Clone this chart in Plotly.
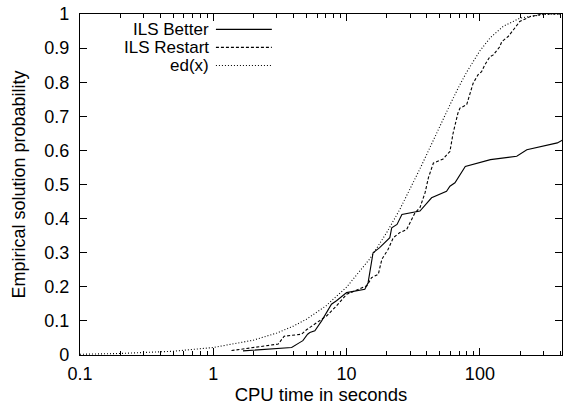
import plotly.graph_objects as go

# ILS Better (solid)
better_x = [1.67, 3.87, 4.47, 4.7, 5.1, 5.3, 5.78, 6.5, 7.7, 8.4, 10.0, 13.7, 14.5, 15.8, 17.7,
            21.1, 21.8, 23.9, 26.0, 35.5, 43.4, 56.2, 59.6, 65.0, 77.7, 120, 189, 225, 381, 423]
better_y = [0.012, 0.022, 0.037, 0.042, 0.061, 0.066, 0.071, 0.1, 0.149, 0.159, 0.183, 0.193, 0.212,
            0.30, 0.315, 0.344, 0.373, 0.383, 0.412, 0.422, 0.461, 0.48, 0.495, 0.505, 0.553, 0.573,
            0.583, 0.602, 0.622, 0.632]

# ILS Restart (dashed)
restart_x = [1.37, 3.07, 3.4, 4.6, 5.0, 5.3, 6.3, 7.1, 8.4, 10, 14.2, 15.4, 17.3, 18.4, 20.5, 22.4,
             25.1, 28.2, 32.6, 35.5, 38.8, 41.1, 44.8, 53, 59.6, 63, 68.5, 70.9, 79.6, 84.3, 89, 97,
             103, 109, 119, 126, 141, 146, 163, 178, 199, 237, 297, 420]
restart_y = [0.013, 0.032, 0.055, 0.061, 0.074, 0.081, 0.1, 0.115, 0.144, 0.178, 0.203, 0.227, 0.237,
             0.281, 0.31, 0.344, 0.359, 0.368, 0.417, 0.432, 0.476, 0.52, 0.563, 0.575, 0.597, 0.651,
             0.71, 0.724, 0.734, 0.768, 0.797, 0.822, 0.831, 0.851, 0.875, 0.88, 0.904, 0.919, 0.934,
             0.953, 0.978, 0.992, 1.0, 1.0]

# ed(x) (dotted)
ed_x = [0.1, 0.2, 0.5, 1, 2, 3, 4, 5, 7, 10, 15, 20, 25, 30, 35, 40, 50, 60, 70, 80, 100, 120,
        150, 200, 300, 430]
ed_y = [0.0022, 0.0044, 0.011, 0.022, 0.0435, 0.0645, 0.085, 0.105, 0.144, 0.199, 0.283, 0.359,
        0.426, 0.487, 0.541, 0.589, 0.671, 0.736, 0.789, 0.831, 0.892, 0.931, 0.964, 0.988, 0.9987, 1.0]

series_names = ["ILS Better", "ILS Restart", "ed(x)"]
x_tickvals = [0.1, 1, 10, 100]
x_ticktext = ["0.1", "1", "10", "100"]
x_minor_vals = [0.2, 0.3, 0.4, 0.5, 0.6, 0.7, 0.8, 0.9,
                2, 3, 4, 5, 6, 7, 8, 9,
                20, 30, 40, 50, 60, 70, 80, 90,
                200, 300, 400]
y_tickvals = [0, 0.1, 0.2, 0.3, 0.4, 0.5, 0.6, 0.7, 0.8, 0.9, 1]
y_ticktext = ["0", "0.1", "0.2", "0.3", "0.4", "0.5", "0.6", "0.7", "0.8", "0.9", "1"]

FONT = "Liberation Sans, Arial, Helvetica, sans-serif"
FS = 18
dashes = ["solid", "3px,2px", "1px,2px"]

fig = go.Figure()
for xs, ys, name, d in [(better_x, better_y, series_names[0], dashes[0]),
                        (restart_x, restart_y, series_names[1], dashes[1]),
                        (ed_x, ed_y, series_names[2], dashes[2])]:
    fig.add_trace(go.Scatter(x=xs, y=ys, mode="lines", name=name,
                             line=dict(color="black", width=1.1, dash=d), showlegend=False))

# manual gnuplot-style legend (text right, sample line to the right)
leg_y = [0.955, 0.902, 0.849]
for name, d, yy in zip(series_names, dashes, leg_y):
    fig.add_annotation(x=0.270, y=yy, xref="paper", yref="paper", text=name, showarrow=False,
                       xanchor="right", yanchor="middle", borderpad=0,
                       font=dict(family=FONT, size=17, color="black"))
    fig.add_shape(type="line", xref="paper", yref="paper", x0=0.282, x1=0.398, y0=yy, y1=yy,
                  line=dict(color="black", width=1.1, dash=d))

fig.update_xaxes(type="log", range=[-1, 2.616], tickmode="array",
                 tickvals=x_tickvals, ticktext=x_ticktext,
                 ticks="inside", ticklen=7, tickwidth=1, tickcolor="black",
                 minor=dict(tickmode="array", tickvals=x_minor_vals, ticks="inside", ticklen=4,
                            tickwidth=1, tickcolor="black", showgrid=False),
                 showline=True, linecolor="black", linewidth=1.3, mirror="allticks",
                 showgrid=False, zeroline=False, automargin=False, ticklabelstandoff=2,
                 tickfont=dict(family=FONT, size=FS, color="black"),
                 title=dict(text="CPU time in seconds", font=dict(family=FONT, size=18.5, color="black"),
                            standoff=5))
fig.update_yaxes(range=[0, 1], tickmode="array", tickvals=y_tickvals, ticktext=y_ticktext,
                 ticks="inside", ticklen=7, tickwidth=1, tickcolor="black",
                 showline=True, linecolor="black", linewidth=1.3, mirror="allticks",
                 showgrid=False, zeroline=False, automargin=False, ticklabelstandoff=6,
                 tickfont=dict(family=FONT, size=FS, color="black"),
                 title=dict(text="Empirical solution probability",
                            font=dict(family=FONT, size=18, color="black"), standoff=13))

fig.update_layout(width=563, height=411, margin=dict(l=80, r=1, t=14, b=56),
                  paper_bgcolor="white", plot_bgcolor="white",
                  font=dict(family=FONT, size=FS, color="black"))

fig.write_html("out.html", config={"displayModeBar": False},
               post_script="document.body.style.margin='0px';document.body.style.overflow='hidden';")
